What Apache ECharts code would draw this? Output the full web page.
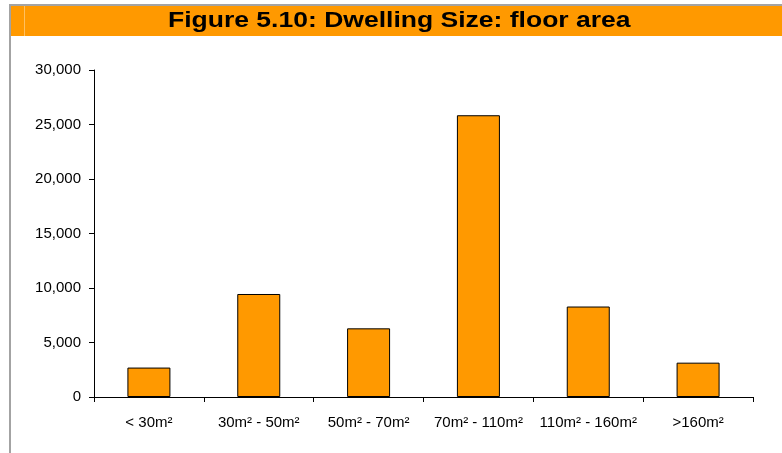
<!DOCTYPE html>
<html>
<head>
<meta charset="utf-8">
<script src="https://cdn.jsdelivr.net/npm/echarts@6/dist/echarts.min.js"></script>
<style>
  html, body { margin: 0; padding: 0; background: #fff; }
  #chart { width: 782px; height: 453px; }
</style>
</head>
<body>
<div id="chart"></div>
<script>
// Floor-area bands and dwelling counts
const categories = ['< 30m²', '30m² - 50m²', '50m² - 70m²', '70m² - 110m²', '110m² - 160m²', '>160m²'];
const dwellings = [2700, 9450, 6300, 25850, 8300, 3150];
const yTicks = { min: 0, max: 30000, interval: 5000 };
const titleText = 'Figure 5.10: Dwelling Size: floor area';

const chart = echarts.init(document.getElementById('chart'), null, { renderer: 'canvas' });

const font = 'Liberation Sans, Arial, Helvetica, sans-serif';

chart.setOption({
  animation: false,
  backgroundColor: '#ffffff',
  graphic: [
    // frame lines on the left and top
    { type: 'rect', shape: { x: 9, y: 4, width: 2, height: 449 }, style: { fill: '#a3a3a3' }, silent: true },
    { type: 'rect', shape: { x: 9, y: 4, width: 773, height: 2 }, style: { fill: '#a3a3a3' }, silent: true },
    // orange title band
    { type: 'rect', shape: { x: 11, y: 6, width: 771, height: 30 }, style: { fill: '#FF9900' }, silent: true },
    { type: 'rect', shape: { x: 24, y: 6, width: 1, height: 30 }, style: { fill: '#FFC060' }, silent: true },
    {
      type: 'text', x: 168, y: 10, scaleX: 1.205,
      style: { text: titleText, fill: '#000', font: 'bold 22px ' + font }
    }
  ],
  grid: { left: 94, top: 70, right: 29, bottom: 56, containLabel: false },
  xAxis: {
    type: 'category',
    data: categories,
    boundaryGap: true,
    axisLine: { lineStyle: { color: '#000', width: 1 } },
    axisTick: { show: true, length: 5, lineStyle: { color: '#000' } },
    axisLabel: { color: '#000', fontFamily: font, fontSize: 15, margin: 18, interval: 0 },
    splitLine: { show: false }
  },
  yAxis: {
    type: 'value',
    min: yTicks.min,
    max: yTicks.max,
    interval: yTicks.interval,
    axisLine: { show: true, lineStyle: { color: '#000', width: 1 } },
    axisTick: { show: true, length: 5, lineStyle: { color: '#000' } },
    axisLabel: {
      color: '#000', fontFamily: font, fontSize: 15, margin: 13,
      formatter: v => v.toLocaleString('en-US')
    },
    splitLine: { show: false }
  },
  series: [{
    type: 'bar',
    data: dwellings,
    barWidth: 43,
    itemStyle: { color: '#FF9900', borderColor: '#000', borderWidth: 1 }
  }]
});
</script>
</body>
</html>
